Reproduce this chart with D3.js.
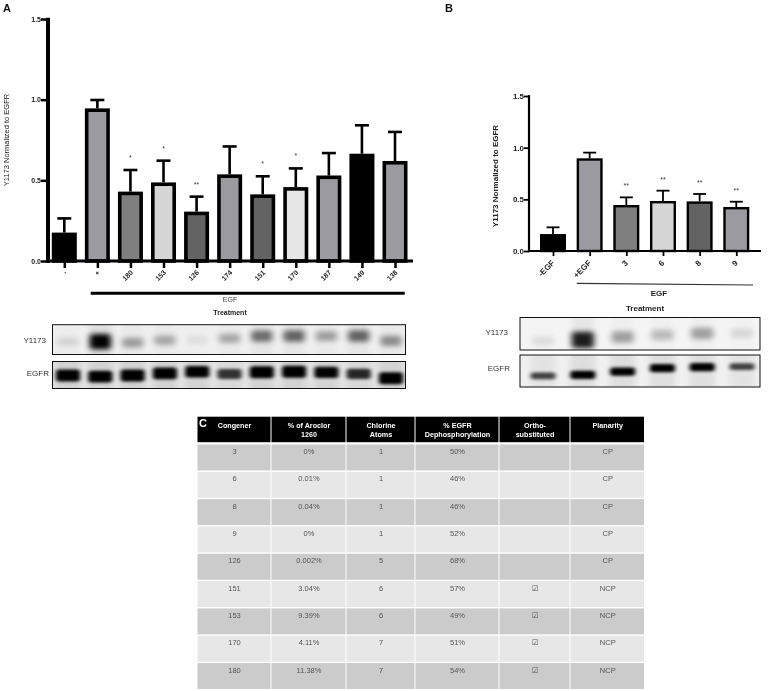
<!DOCTYPE html>
<html>
<head>
<meta charset="utf-8">
<script src="https://cdnjs.cloudflare.com/ajax/libs/d3/7.8.5/d3.min.js"></script>
<style>
  body { margin: 0; background: #fff; }
  svg { display: block; filter: blur(0.35px); }
  text { font-family: "Liberation Sans", Arial, sans-serif; }
</style>
</head>
<body>
<div id="chart"></div>
<script>
// panel A
const labelsA = ["-", "+", "180", "153", "126", "174", "151", "170", "187", "149", "138"];
const valuesA = [0.176, 0.946, 0.43, 0.487, 0.306, 0.537, 0.413, 0.458, 0.53, 0.665, 0.62];
const errTopA = [0.264, 0.998, 0.564, 0.622, 0.399, 0.71, 0.525, 0.574, 0.669, 0.841, 0.80];
const starsA = ["", "", "*", "*", "**", "", "*", "*", "", "", ""];
const fillsA = ["#000000", "#9b9aa0", "#7f7f7f", "#d6d6d6", "#636363", "#9b9aa0", "#636363", "#e6e6e6", "#9b9aa0", "#000000", "#9b9aa0"];

// panel B
const labelsB = ["-EGF", "+EGF", "3", "6", "8", "9"];
const valuesB = [0.164, 0.897, 0.445, 0.484, 0.48, 0.426];
const errTopB = [0.229, 0.952, 0.519, 0.584, 0.552, 0.477];
const starsB = ["", "", "**", "**", "**", "**"];
const fillsB = ["#000000", "#9b9aa0", "#7f7f7f", "#d6d6d6", "#636363", "#9b9aa0"];

const yTicks = [0, 0.5, 1, 1.5];

// blots, band strength 0-1 and how far down the strip the band sits 0-1
const y1173StrengthA = [0.1, 0.95, 0.3, 0.26, 0.06, 0.26, 0.48, 0.52, 0.3, 0.52, 0.36];
const y1173DepthA = [0.57, 0.57, 0.6, 0.52, 0.52, 0.46, 0.38, 0.38, 0.38, 0.38, 0.54];
const egfrStrengthA = [1, 1, 1, 1, 0.95, 0.7, 1, 1, 0.9, 0.75, 1];
const egfrDepthA = [0.52, 0.56, 0.52, 0.44, 0.38, 0.46, 0.4, 0.38, 0.4, 0.46, 0.62];
const y1173StrengthB = [0.08, 0.8, 0.3, 0.2, 0.3, 0.1];
const y1173DepthB = [0.72, 0.69, 0.6, 0.54, 0.49, 0.49];
const egfrStrengthB = [0.65, 1, 1, 1, 0.95, 0.65];
const egfrDepthB = [0.65, 0.62, 0.52, 0.41, 0.38, 0.36];

// table C
const tableHeaders = [["Congener"], ["% of Aroclor", "1260"], ["Chlorine", "Atoms"], ["% EGFR", "Dephosphorylation"], ["Ortho-", "substituted"], ["Planarity"]];
const congeners = ["3", "6", "8", "9", "126", "151", "153", "170", "180"];
const aroclorPct = ["0%", "0.01%", "0.04%", "0%", "0.002%", "3.04%", "9.39%", "4.11%", "11.38%"];
const chlorineAtoms = ["1", "1", "1", "1", "5", "6", "6", "7", "7"];
const dephosphorylation = ["50%", "46%", "46%", "52%", "68%", "57%", "49%", "51%", "54%"];
const orthoSubstituted = ["", "", "", "", "", "\u2611", "\u2611", "\u2611", "\u2611"];
const planarity = ["CP", "CP", "CP", "CP", "CP", "NCP", "NCP", "NCP", "NCP"];

const svg = d3.select("#chart").append("svg").attr("width", 771).attr("height", 691);

// soft one for the phospho strips, tighter one for total EGFR
const defs = svg.append("defs");
function addBlur(id, dev) {
  defs.append("filter").attr("id", id)
    .attr("x", "-60%").attr("y", "-150%").attr("width", "220%").attr("height", "400%")
    .append("feGaussianBlur").attr("stdDeviation", dev);
}
addBlur("blurSoft", "3 2.8");
addBlur("blurTight", "2 1.4");

function drawBarPanel(cfg) {
  let yScale = d3.scaleLinear().domain([0, 1.5]).range([cfg.y0, cfg.y1]);
  let xScale = d3.scalePoint().domain(cfg.labels).range([cfg.xFirst, cfg.xLast]);
  let g = svg.append("g");

  // bars
  g.selectAll("rect.bar").data(cfg.labels).join("rect")
    .attr("class", "bar")
    .attr("x", d => xScale(d) - (cfg.barWidth - cfg.stroke) / 2)
    .attr("width", cfg.barWidth - cfg.stroke)
    .attr("y", (d, i) => yScale(cfg.values[i]) + cfg.stroke / 2)
    .attr("height", (d, i) => yScale(0) - yScale(cfg.values[i]) - cfg.stroke / 2)
    .attr("fill", (d, i) => cfg.fills[i])
    .attr("stroke", "#000")
    .attr("stroke-width", cfg.stroke);

  // error bars
  g.selectAll("line.err").data(cfg.labels).join("line")
    .attr("class", "err")
    .attr("x1", d => xScale(d)).attr("x2", d => xScale(d))
    .attr("y1", (d, i) => yScale(cfg.values[i]))
    .attr("y2", (d, i) => yScale(cfg.errTop[i]))
    .attr("stroke", "#000").attr("stroke-width", cfg.errStroke);
  g.selectAll("line.cap").data(cfg.labels).join("line")
    .attr("class", "cap")
    .attr("x1", d => xScale(d) - cfg.capWidth / 2).attr("x2", d => xScale(d) + cfg.capWidth / 2)
    .attr("y1", (d, i) => yScale(cfg.errTop[i]))
    .attr("y2", (d, i) => yScale(cfg.errTop[i]))
    .attr("stroke", "#000").attr("stroke-width", cfg.errStroke);

  // significance stars
  g.selectAll("text.star").data(cfg.labels).join("text")
    .attr("class", "star")
    .attr("x", d => xScale(d))
    .attr("y", (d, i) => yScale(cfg.errTop[i]) - cfg.starGap)
    .attr("text-anchor", "middle")
    .style("font-size", cfg.starSize + "px")
    .attr("fill", "#333")
    .text((d, i) => cfg.stars[i]);

  // axes
  let yAxis = d3.axisLeft(yScale).tickValues(yTicks).tickFormat(d3.format(".1f")).tickSize(cfg.tick).tickPadding(0);
  let gy = g.append("g").attr("transform", "translate(" + cfg.axisX + ",0)").call(yAxis);
  let xAxis = d3.axisBottom(xScale).tickSize(cfg.tick).tickFormat("").tickSizeOuter(0);
  let gx = g.append("g").attr("transform", "translate(0," + cfg.y0 + ")").call(xAxis);
  gx.select(".domain").remove();
  gy.select(".domain").remove();
  gy.selectAll("line").attr("stroke", "#000").attr("stroke-width", cfg.tickStroke);
  gx.selectAll("line").attr("stroke", "#000").attr("stroke-width", cfg.tickStroke);
  gy.selectAll("text")
    .attr("fill", "#222")
    .style("font-size", cfg.tickFont + "px")
    .style("font-family", "'Liberation Sans', Arial, sans-serif")
    .style("font-weight", "bold");

  g.append("line")
    .attr("x1", cfg.axisX).attr("x2", cfg.axisX)
    .attr("y1", yScale(1.5) - cfg.tickStroke / 2).attr("y2", yScale(0) + cfg.axisStroke / 2)
    .attr("stroke", "#000").attr("stroke-width", cfg.axisStroke);
  g.append("line")
    .attr("x1", cfg.axisX).attr("x2", cfg.axisEnd)
    .attr("y1", yScale(0)).attr("y2", yScale(0))
    .attr("stroke", "#000").attr("stroke-width", cfg.baseStroke);

  // rotated category labels
  g.selectAll("text.cat").data(cfg.labels).join("text")
    .attr("class", "cat")
    .attr("text-anchor", "end")
    .attr("transform", d => "translate(" + (xScale(d) + cfg.catDx) + "," + (cfg.y0 + cfg.catDy) + ") rotate(-45)")
    .style("font-size", cfg.tickFont + "px")
    .style("font-weight", "bold")
    .attr("fill", "#222")
    .text(d => d);

  // y title
  g.append("text")
    .attr("transform", "translate(" + cfg.titleX + "," + cfg.titleY + ") rotate(-90)")
    .attr("text-anchor", "middle")
    .style("font-size", cfg.titleFont + "px")
    .style("font-weight", cfg.titleWeight)
    .attr("fill", "#222")
    .text("Y1173 Normalized to EGFR");
}

function drawBlot(cfg) {
  let laneScale = d3.scalePoint().domain(d3.range(cfg.strength.length)).range([cfg.xFirst, cfg.xLast]);
  let depthScale = d3.scaleLinear().domain([0, 1]).range([cfg.top, cfg.bottom]);
  let clipId = "clip" + cfg.id;

  svg.append("clipPath").attr("id", clipId).append("rect")
    .attr("x", cfg.left).attr("y", cfg.top)
    .attr("width", cfg.right - cfg.left).attr("height", cfg.bottom - cfg.top);

  let g = svg.append("g").attr("clip-path", "url(#" + clipId + ")");
  g.append("rect")
    .attr("x", cfg.left).attr("y", cfg.top)
    .attr("width", cfg.right - cfg.left).attr("height", cfg.bottom - cfg.top)
    .attr("fill", cfg.background);

  // faint smear under each lane
  g.selectAll("rect.smear").data(cfg.strength).join("rect")
    .attr("class", "smear")
    .attr("x", (d, i) => laneScale(i) - cfg.bandWidth / 2)
    .attr("width", cfg.bandWidth)
    .attr("y", cfg.top - 6)
    .attr("height", cfg.bottom - cfg.top + 12)
    .attr("fill", "#000")
    .attr("opacity", d => d * 0.07)
    .attr("filter", "url(#blurSoft)");

  // rounded bands read closer to the flat-topped blot bands than ellipses
  let bandHalf = d => cfg.bandHeight * (0.6 + 0.7 * d);
  g.selectAll("rect.band").data(cfg.strength).join("rect")
    .attr("class", "band")
    .attr("x", (d, i) => laneScale(i) - cfg.bandWidth / 2)
    .attr("width", cfg.bandWidth)
    .attr("y", (d, i) => depthScale(cfg.depth[i]) - bandHalf(d))
    .attr("height", d => 2 * bandHalf(d))
    .attr("rx", 3)
    .attr("fill", "#000")
    .attr("opacity", d => Math.min(1, d * 1.1))
    .attr("filter", "url(#" + cfg.blur + ")");

  svg.append("rect")
    .attr("x", cfg.left).attr("y", cfg.top)
    .attr("width", cfg.right - cfg.left).attr("height", cfg.bottom - cfg.top)
    .attr("fill", "none").attr("stroke", "#111").attr("stroke-width", 1);

  svg.append("text")
    .attr("x", cfg.labelX).attr("y", (cfg.top + cfg.bottom) / 2 + cfg.labelDy)
    .attr("text-anchor", "end")
    .style("font-size", "8px")
    .attr("fill", "#333")
    .text(cfg.label);
}

function addLabel(x, y, txt, size, weight, fill, anchor) {
  svg.append("text").attr("x", x).attr("y", y)
    .attr("text-anchor", anchor || "middle")
    .style("font-size", size + "px")
    .style("font-weight", weight)
    .attr("fill", fill)
    .text(txt);
}

// panel A
drawBarPanel({
  labels: labelsA, values: valuesA, errTop: errTopA, stars: starsA, fills: fillsA,
  y0: 261, y1: 19, xFirst: 64.3, xLast: 395, axisX: 48, axisEnd: 413,
  barWidth: 25, stroke: 3.6, errStroke: 2.6, capWidth: 14,
  axisStroke: 4, baseStroke: 3, tick: 7, tickStroke: 2.5, tickFont: 7,
  starGap: 10, starSize: 7, catDx: 3, catDy: 12,
  titleX: 9, titleY: 140, titleFont: 7.5, titleWeight: "normal"
});
svg.append("line").attr("x1", 90.7).attr("x2", 404.7).attr("y1", 293.3).attr("y2", 293.3)
  .attr("stroke", "#000").attr("stroke-width", 3);
addLabel(230, 302, "EGF", 7, "normal", "#444");
addLabel(230, 315, "Treatment", 7, "bold", "#222");
addLabel(3, 12, "A", 11, "bold", "#111", "start");

// panel B
drawBarPanel({
  labels: labelsB, values: valuesB, errTop: errTopB, stars: starsB, fills: fillsB,
  y0: 251, y1: 96, xFirst: 553, xLast: 736.3, axisX: 529, axisEnd: 761,
  barWidth: 26, stroke: 2.4, errStroke: 1.8, capWidth: 13,
  axisStroke: 2.2, baseStroke: 2.2, tick: 5, tickStroke: 1.8, tickFont: 8,
  starGap: 9, starSize: 7, catDx: 2, catDy: 12.5,
  titleX: 498, titleY: 176, titleFont: 8, titleWeight: "bold"
});
svg.append("line").attr("x1", 576.7).attr("x2", 753).attr("y1", 283.3).attr("y2", 285)
  .attr("stroke", "#333").attr("stroke-width", 1.2);
addLabel(659, 296, "EGF", 8, "bold", "#222");
addLabel(645, 311, "Treatment", 8, "bold", "#222");
addLabel(445, 12, "B", 11, "bold", "#111", "start");

// blots
drawBlot({ id: "a1", strength: y1173StrengthA, depth: y1173DepthA, xFirst: 68, xLast: 391,
  left: 52.5, right: 405.5, top: 324.7, bottom: 354.5, background: "#efefef", blur: "blurSoft",
  bandWidth: 21, bandHeight: 6, label: "Y1173", labelX: 46, labelDy: 3 });
drawBlot({ id: "a2", strength: egfrStrengthA, depth: egfrDepthA, xFirst: 68, xLast: 391,
  left: 52.5, right: 405.5, top: 361.5, bottom: 388.5, background: "#e4e4e4", blur: "blurTight",
  bandWidth: 24, bandHeight: 4.6, label: "EGFR", labelX: 49, labelDy: 1 });
drawBlot({ id: "b1", strength: y1173StrengthB, depth: y1173DepthB, xFirst: 543, xLast: 742,
  left: 520, right: 760, top: 317.5, bottom: 350, background: "#f4f4f4", blur: "blurSoft",
  bandWidth: 22, bandHeight: 7, label: "Y1173", labelX: 508, labelDy: 1 });
drawBlot({ id: "b2", strength: egfrStrengthB, depth: egfrDepthB, xFirst: 543, xLast: 742,
  left: 520, right: 760, top: 355, bottom: 387, background: "#f0f0f0", blur: "blurTight",
  bandWidth: 25, bandHeight: 3.2, label: "EGFR", labelX: 510, labelDy: 0 });

// table C
const columnEdges = [197.5, 271.5, 346.5, 415.5, 499.5, 570.5, 645];
const columns = [congeners, aroclorPct, chlorineAtoms, dephosphorylation, orthoSubstituted, planarity];
const rowScale = d3.scaleBand().domain(congeners).range([444.5, 689]).paddingInner(0.05).paddingOuter(0);

const tableG = svg.append("g");
tableHeaders.forEach(function(lines, c) {
  tableG.append("rect")
    .attr("x", columnEdges[c]).attr("y", 416.7)
    .attr("width", columnEdges[c + 1] - columnEdges[c] - 1).attr("height", 25.5)
    .attr("fill", "#000");
  lines.forEach(function(line, l) {
    tableG.append("text")
      .attr("x", (columnEdges[c] + columnEdges[c + 1]) / 2)
      .attr("y", 427.5 + l * 9.5)
      .attr("text-anchor", "middle")
      .style("font-size", "7.2px")
      .style("font-weight", "bold")
      .attr("fill", "#fff")
      .text(line);
  });
});

congeners.forEach(function(congener, r) {
  columns.forEach(function(col, c) {
    tableG.append("rect")
      .attr("x", columnEdges[c]).attr("y", rowScale(congener))
      .attr("width", columnEdges[c + 1] - columnEdges[c] - 1).attr("height", rowScale.bandwidth())
      .attr("fill", r % 2 == 0 ? "#cbcbcb" : "#e7e7e7");
    tableG.append("text")
      .attr("x", (columnEdges[c] + columnEdges[c + 1]) / 2)
      .attr("y", rowScale(congener) + 9.5)
      .attr("text-anchor", "middle")
      .style("font-size", "7.5px")
      .style("font-family", col[r] == "\u2611" ? "'DejaVu Sans', sans-serif" : null)
      .attr("fill", "#555")
      .text(col[r]);
  });
});
addLabel(199, 427, "C", 11, "bold", "#fff", "start");
</script>
</body>
</html>
